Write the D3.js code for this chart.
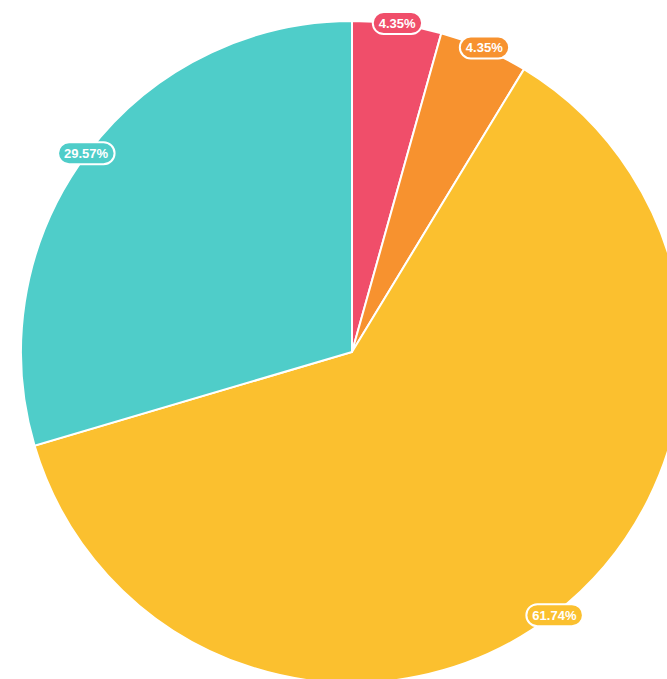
<!DOCTYPE html>
<html>
<head>
<meta charset="utf-8">
<script src="https://cdn.jsdelivr.net/npm/d3@7"></script>
<style>
    html, body { margin: 0; padding: 0; background: #fff; overflow: hidden; }
    svg { display: block; }
</style>
</head>
<body>
<div id="root"></div>
<script>
// slice values (counts), in clockwise order from 12 o'clock
const categories = ["A", "B", "C", "D"];
const values = [10, 10, 142, 68];
const colors = ["#F04E6A", "#F7922F", "#FBC02F", "#4FCDC9"];

document.addEventListener("DOMContentLoaded", () => {
    const width = 667;
    const height = 679;
    const cx = 352, cy = 352, radius = 331;

    const svg = d3.select("#root").append("svg")
        .attr("width", width)
        .attr("height", height);

    const data = categories.map((c, i) => ({ name: c, value: values[i], color: colors[i] }));
    const total = d3.sum(values);

    const pie = d3.pie().value(d => d.value).sort(null);
    const arc = d3.arc().innerRadius(0).outerRadius(radius);
    const labelArc = d3.arc().innerRadius(radius + 1).outerRadius(radius + 1);

    const g = svg.append("g").attr("transform", `translate(${cx},${cy})`);
    const arcs = pie(data);

    g.selectAll("path.slice")
        .data(arcs)
        .enter().append("path")
        .attr("class", "slice")
        .attr("d", arc)
        .attr("fill", d => d.data.color)
        .attr("stroke", "#fff")
        .attr("stroke-width", 2);

    const fmt = v => (v / total * 100).toFixed(2) + "%";

    const label = g.selectAll("g.label")
        .data(arcs)
        .enter().append("g")
        .attr("class", "label")
        .attr("transform", d => `translate(${labelArc.centroid(d)})`);

    label.append("text")
        .text(d => fmt(d.data.value))
        .attr("text-anchor", "middle")
        .attr("dy", "0.36em")
        .style("font-family", "Arial, 'Liberation Sans', sans-serif")
        .style("font-size", "13px")
        .style("font-weight", "bold")
        .style("fill", "#fff");

    label.each(function(d) {
        const grp = d3.select(this);
        const bb = grp.select("text").node().getBBox();
        const padX = 6, h = 22;
        grp.insert("rect", "text")
            .attr("x", bb.x - padX)
            .attr("y", -h / 2)
            .attr("width", bb.width + padX * 2)
            .attr("height", h)
            .attr("rx", h / 2)
            .attr("ry", h / 2)
            .attr("fill", d.data.color)
            .attr("stroke", "#fff")
            .attr("stroke-width", 2);
    });
});
</script>
</body>
</html>
